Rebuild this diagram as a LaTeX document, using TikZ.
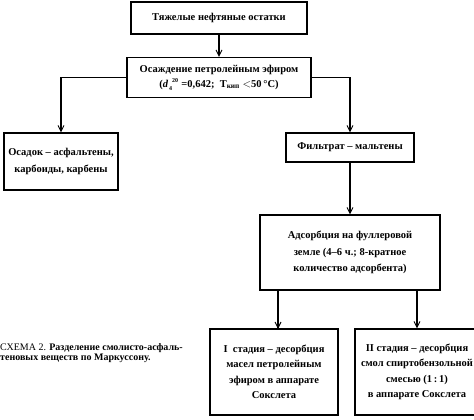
\documentclass[tikz,border=0pt]{standalone}
\usepackage{fontspec}
\setmainfont{Liberation Serif}
\usetikzlibrary{arrows.meta}
\newcommand{\smallidx}[1]{{\fontsize{6}{6}\selectfont #1}}
\begin{document}
\begin{tikzpicture}[x=1pt,y=-1pt,
  box/.style={draw, line width=1.2pt, align=center, inner sep=0pt,
    font=\bfseries\fontsize{10.5}{16.5}\selectfont},
  conn/.style={line width=1.2pt},
  arr/.style={conn, -{Straight Barb[length=6pt,width=6pt,line width=0.9pt]}}]
\useasboundingbox (0,0) rectangle (474,420);
\clip (0,0) rectangle (474,420);
\node[box, minimum width=176pt, minimum height=32pt] (top) at (219,18) {Тяжелые нефтяные остатки};
\node[box, minimum width=184pt, minimum height=40pt, font=\bfseries\fontsize{10.5}{15}\selectfont] (sed) at (219,77.5)
  {Осаждение петролейным эфиром\\(\textit{d}\kern1pt\raisebox{-3pt}{\smallidx{4}}\raisebox{5pt}{\smallidx{20}}\hspace{0.3em}=0,642;\ \ Т\textsubscript{кип} $<$50\,°C)};
\node[box, minimum width=114pt, minimum height=57pt] (left) at (61,161.5)
  {Осадок – асфальтены,\\карбоиды, карбены};
\node[box, minimum width=128pt, minimum height=29pt] (filt) at (350,147.5)
  {Фильтрат – мальтены};
\node[box, minimum width=180pt, minimum height=75pt] (ads) at (350,252.5)
  {Адсорбция на фуллеровой\\земле (4–6 ч.; 8-кратное\\количество адсорбента)};
\node[box, minimum width=128pt, minimum height=86pt, font=\bfseries\fontsize{10.5}{15.5}\selectfont] (b1) at (274,372)
  {I\ \ стадия – десорбция\\масел петролейным\\эфиром в аппарате\\Сокслета};
\node[box, minimum width=124pt, minimum height=86pt, font=\bfseries\fontsize{10.5}{15.5}\selectfont] (b2) at (417,372)
  {II стадия – десорбция\\смол спиртобензольной\\смесью (1\,:\,1)\\в аппарате Сокслета};
\coordinate (c1) at (278,290);
\coordinate (c1e) at (278,329);
\draw[arr] (top) -- (sed);
\draw[arr] (sed.west) -| (left.north);
\draw[arr] (sed.east) -| (filt.north);
\draw[arr] (filt) -- (ads);
\draw[arr] (c1) -- (c1e);
\draw[arr] (b2.north |- ads.south) -- (b2.north);
\node[anchor=north west, align=left, inner sep=0pt,
  font=\fontsize{10}{10}\selectfont] (cap) at (0,343)
  {СХЕМА 2. \textbf{Разделение смолисто-асфаль-}\\\textbf{теновых веществ по Маркуссону.}};
\end{tikzpicture}
\end{document}
